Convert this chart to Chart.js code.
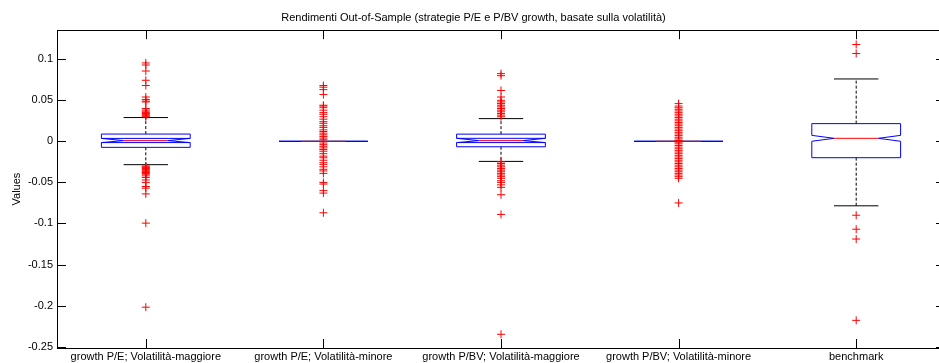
<!DOCTYPE html>
<html>
<head>
<meta charset="utf-8">
<script src="https://cdn.jsdelivr.net/npm/chart.js@4.4.0/dist/chart.umd.min.js"></script>
<style>
html, body { margin: 0; padding: 0; background: #fff; overflow: hidden; }
#wrap { width: 950px; height: 363px; }
</style>
</head>
<body>
<div id="wrap"><canvas id="boxes" width="950" height="363"></canvas></div>
<script>
// categories and box statistics
const categories = ['growth P/E; Volatilità-maggiore', 'growth P/E; Volatilità-minore',
  'growth P/BV; Volatilità-maggiore', 'growth P/BV; Volatilità-minore', 'benchmark'];
const medians   = [0.0009, 0, 0.0009, 0, 0.0037];
const q1        = [-0.0073, 0, -0.0066, 0, -0.0199];
const q3        = [0.0089, 0, 0.0088, 0, 0.0216];
const notchLo   = [-0.0015, 0, -0.0015, 0, 0.0001];
const notchHi   = [0.0036, 0, 0.0037, 0, 0.0073];
const whiskerLo = [-0.0284, 0, -0.0244, 0, -0.0785];
const whiskerHi = [0.0290, 0, 0.0277, 0, 0.0760];
const notchEdge = [true, false, true, false, false];

// outliers per box
const outliers1 = [0.0955, 0.093, 0.0857, 0.0744, 0.068, 0.054, 0.051, 0.049, 0.048, 0.040, 0.038,
  0.036, 0.035, 0.034, 0.033, 0.032, 0.031, 0.030, -0.030, -0.031, -0.032, -0.033, -0.034, -0.035,
  -0.036, -0.037, -0.038, -0.039, -0.040, -0.042, -0.044, -0.047, -0.050, -0.055, -0.057, -0.064,
  -0.0996, -0.202];
const outliers2 = [0.068, 0.066, 0.063, 0.057, 0.044, 0.043, 0.041, 0.038, 0.035, 0.033, 0.030,
  0.027, 0.024, 0.022, 0.019, 0.017, 0.014, 0.012, 0.010, 0.008, 0.006, 0.004, 0.002, -0.002,
  -0.004, -0.006, -0.008, -0.010, -0.012, -0.015, -0.018, -0.020, -0.023, -0.026, -0.028, -0.031,
  -0.034, -0.036, -0.039, -0.050, -0.052, -0.060, -0.063, -0.087];
const outliers3 = [0.0825, 0.080, 0.062, 0.054, 0.050, 0.048, 0.046, 0.044, 0.042, 0.040, 0.038,
  0.036, 0.034, 0.032, 0.030, -0.025, -0.027, -0.029, -0.031, -0.033, -0.035, -0.037, -0.039,
  -0.041, -0.043, -0.045, -0.048, -0.050, -0.053, -0.056, -0.065, -0.089, -0.235];
const outliers4 = [0.046, 0.043, 0.041, 0.039, 0.037, 0.035, 0.033, 0.031, 0.029, 0.027, 0.025,
  0.023, 0.021, 0.019, 0.017, 0.015, 0.013, 0.011, 0.009, 0.007, 0.005, 0.003, 0.001, -0.001,
  -0.003, -0.005, -0.007, -0.009, -0.011, -0.013, -0.015, -0.017, -0.019, -0.021, -0.023, -0.025,
  -0.027, -0.029, -0.031, -0.033, -0.035, -0.037, -0.039, -0.041, -0.043, -0.045, -0.075];
const outliers5 = [0.118, 0.107, -0.090, -0.107, -0.119, -0.218];

const yTicks = [-0.25, -0.2, -0.15, -0.1, -0.05, 0, 0.05, 0.1];
const yTickLabels = ['-0.25', '-0.2', '-0.15', '-0.1', '-0.05', '0', '0.05', '0.1'];

const allOutliers = [outliers1, outliers2, outliers3, outliers4, outliers5];
const outlierPoints = [];
allOutliers.forEach((list, i) => list.forEach(v => outlierPoints.push({x: i + 1, y: v})));

const font = {family: "'Liberation Sans', Arial, sans-serif", size: 11};

// draws the notched boxes, whiskers and the matlab style frame
const boxPlugin = {
  id: 'matlabBoxes',
  beforeDatasetsDraw(chart) {
    const {ctx, scales: {x, y}} = chart;
    ctx.save();
    categories.forEach((c, i) => {
      const X = d => x.getPixelForValue(i + 1 + d);
      const Y = v => y.getPixelForValue(v);
      // whiskers (dashed)
      ctx.strokeStyle = '#000';
      ctx.lineWidth = 1;
      ctx.setLineDash([3, 2]);
      ctx.beginPath();
      ctx.moveTo(X(0), Y(q3[i])); ctx.lineTo(X(0), Y(whiskerHi[i]));
      ctx.moveTo(X(0), Y(q1[i])); ctx.lineTo(X(0), Y(whiskerLo[i]));
      ctx.stroke();
      ctx.setLineDash([]);
      // caps
      ctx.beginPath();
      ctx.moveTo(X(-0.125), Y(whiskerHi[i])); ctx.lineTo(X(0.125), Y(whiskerHi[i]));
      ctx.moveTo(X(-0.125), Y(whiskerLo[i])); ctx.lineTo(X(0.125), Y(whiskerLo[i]));
      ctx.stroke();
      // notched box
      ctx.strokeStyle = '#0000ff';
      ctx.beginPath();
      ctx.moveTo(X(-0.125), Y(medians[i]));
      ctx.lineTo(X(-0.25), Y(notchHi[i]));
      ctx.lineTo(X(-0.25), Y(q3[i]));
      ctx.lineTo(X(0.25), Y(q3[i]));
      ctx.lineTo(X(0.25), Y(notchHi[i]));
      ctx.lineTo(X(0.125), Y(medians[i]));
      ctx.lineTo(X(0.25), Y(notchLo[i]));
      ctx.lineTo(X(0.25), Y(q1[i]));
      ctx.lineTo(X(-0.25), Y(q1[i]));
      ctx.lineTo(X(-0.25), Y(notchLo[i]));
      ctx.closePath();
      if (notchEdge[i]) {
        ctx.moveTo(X(-0.25), Y(notchHi[i])); ctx.lineTo(X(0.25), Y(notchHi[i]));
        ctx.moveTo(X(-0.25), Y(notchLo[i])); ctx.lineTo(X(0.25), Y(notchLo[i]));
      }
      ctx.stroke();
      // median
      ctx.strokeStyle = '#ff0000';
      ctx.beginPath();
      ctx.moveTo(X(-0.125), Y(medians[i])); ctx.lineTo(X(0.125), Y(medians[i]));
      ctx.stroke();
    });
    ctx.restore();
  },
  afterDatasetsDraw(chart) {
    const {ctx, chartArea: a, scales: {x, y}} = chart;
    ctx.save();
    ctx.strokeStyle = '#000';
    ctx.lineWidth = 1;
    ctx.strokeRect(Math.round(a.left) + 0.5, Math.round(a.top) + 0.5,
      Math.round(a.right - a.left), Math.round(a.bottom - a.top));
    ctx.beginPath();
    yTicks.forEach(v => {
      const py = Math.round(y.getPixelForValue(v)) + 0.5;
      ctx.moveTo(a.left, py); ctx.lineTo(a.left + 9, py);
      ctx.moveTo(a.right, py); ctx.lineTo(a.right - 9, py);
    });
    categories.forEach((c, i) => {
      const px = Math.round(x.getPixelForValue(i + 1)) + 0.5;
      ctx.moveTo(px, a.top); ctx.lineTo(px, a.top + 9);
      ctx.moveTo(px, a.bottom); ctx.lineTo(px, a.bottom - 9);
    });
    ctx.stroke();
    ctx.restore();
  }
};

const ctx = document.getElementById('boxes').getContext('2d');
const myChart = new Chart(ctx, {
  type: 'scatter',
  data: {
    datasets: [{
      label: 'outliers',
      data: outlierPoints,
      pointStyle: 'cross',
      radius: 4,
      borderColor: '#ff0000',
      backgroundColor: '#ff0000',
      borderWidth: 1
    }]
  },
  options: {
    responsive: false,
    animation: false,
    devicePixelRatio: 1,
    layout: {padding: {left: 0, right: 3, top: 0, bottom: 0}},
    plugins: {
      legend: {display: false},
      tooltip: {enabled: false},
      title: {
        display: true,
        text: 'Rendimenti Out-of-Sample (strategie P/E e P/BV growth, basate sulla volatilità)',
        color: '#000',
        font: {family: font.family, size: 11, weight: 'normal'},
        padding: {top: 11, bottom: 6}
      }
    },
    scales: {
      x: {
        type: 'linear',
        min: 0.5,
        max: 5.5,
        grid: {display: false, drawTicks: false},
        border: {display: false},
        afterBuildTicks: s => { s.ticks = categories.map((c, i) => ({value: i + 1})); },
        afterFit: s => { s.height = 15; },
        ticks: {
          callback: v => categories[v - 1],
          color: '#000',
          font: font,
          padding: 2,
          maxRotation: 0,
          autoSkip: false
        }
      },
      y: {
        min: -0.2517,
        max: 0.1354,
        grid: {display: false, drawTicks: false},
        border: {display: false},
        afterBuildTicks: s => { s.ticks = yTicks.map(v => ({value: v})); },
        afterFit: s => { s.width = 57; },
        ticks: {
          callback: (v, i) => yTickLabels[i],
          color: '#000',
          font: font,
          padding: 4
        },
        title: {
          display: true,
          text: 'Values',
          color: '#000',
          font: font,
          padding: {top: 10, bottom: 0}
        }
      }
    }
  },
  plugins: [boxPlugin]
});
</script>
</body>
</html>
